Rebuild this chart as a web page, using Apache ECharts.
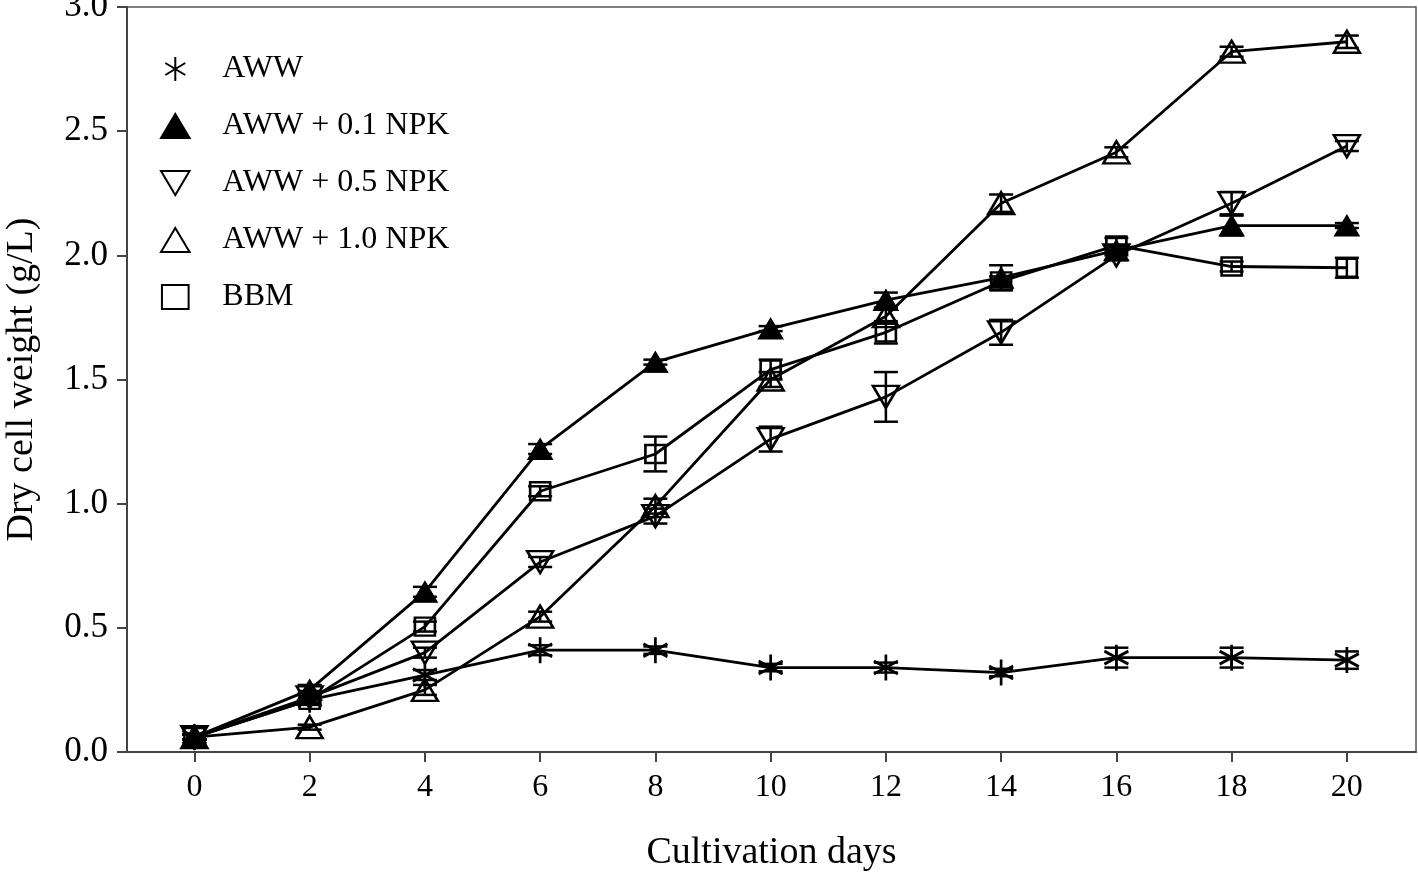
<!DOCTYPE html>
<html>
<head>
<meta charset="utf-8">
<script src="https://cdn.jsdelivr.net/npm/echarts@6/dist/echarts.min.js"></script>
<style>
html,body{margin:0;padding:0;background:#fff;}
#chart{width:1418px;height:876px;}
</style>
</head>
<body>
<div id="chart"></div>
<script>
// ---- data ----
const days = [0, 2, 4, 6, 8, 10, 12, 14, 16, 18, 20];
const xTickValues = [0, 2, 4, 6, 8, 10, 12, 14, 16, 18, 20];
const seriesNames = ['AWW', 'AWW + 0.1 NPK', 'AWW + 0.5 NPK', 'AWW + 1.0 NPK', 'BBM'];

const aww      = [0.06, 0.21, 0.31, 0.41, 0.41, 0.34, 0.34, 0.32, 0.38, 0.38, 0.37];
const aww01    = [0.06, 0.25, 0.645, 1.22, 1.57, 1.705, 1.82, 1.91, 2.02, 2.12, 2.12];
const aww05    = [0.06, 0.22, 0.40, 0.765, 0.95, 1.26, 1.43, 1.69, 2.00, 2.21, 2.44];
const aww10    = [0.06, 0.10, 0.25, 0.545, 0.99, 1.50, 1.755, 2.21, 2.415, 2.82, 2.86];
const bbm      = [0.06, 0.21, 0.505, 1.05, 1.20, 1.54, 1.69, 1.895, 2.04, 1.955, 1.95];

const awwErr   = [0.01, 0.02, 0.02, 0.02, 0.015, 0.015, 0.02, 0.015, 0.04, 0.04, 0.035];
const aww01Err = [0.01, 0.02, 0.02, 0.02, 0.01, 0.01, 0.03, 0.05, 0.02, 0.04, 0.01];
const aww05Err = [0.01, 0.02, 0.02, 0.02, 0.03, 0.05, 0.10, 0.05, 0.02, 0.045, 0.02];
const aww10Err = [0.01, 0.01, 0.02, 0.02, 0.03, 0.03, 0.03, 0.035, 0.02, 0.02, 0.025];
const bbmErr   = [0.01, 0.02, 0.02, 0.02, 0.07, 0.04, 0.045, 0.02, 0.03, 0.02, 0.04];

// ---- styling ----
const FONT = 'Liberation Serif';
const symAsterisk = 'path://M12,0L12,26M1.2,6.5L22.8,19.5M1.2,19.5L22.8,6.5';
const symUp = 'path://M12.5,0L25,21L0,21Z';
const symDown = 'path://M0,0L25,0L12.5,21Z';
const symSquare = 'path://M0,0L20,0L20,18L0,18Z';

const defs = [
  {name: seriesNames[0], values: aww,   errs: awwErr,   symbol: symAsterisk, size: [24, 26], fill: 'rgba(0,0,0,0)', bw: 2.8},
  {name: seriesNames[1], values: aww01, errs: aww01Err, symbol: symUp,       size: [25, 21], fill: '#000', bw: 1},
  {name: seriesNames[2], values: aww05, errs: aww05Err, symbol: symDown,     size: [26, 22], fill: 'rgba(0,0,0,0)', bw: 2.5},
  {name: seriesNames[3], values: aww10, errs: aww10Err, symbol: symUp,       size: [26, 22], fill: 'rgba(0,0,0,0)', bw: 2.5},
  {name: seriesNames[4], values: bbm,   errs: bbmErr,   symbol: symSquare,   size: [20, 18], fill: 'rgba(0,0,0,0)', bw: 2.5}
];

const series = [];
defs.forEach(d => {
  series.push({
    name: d.name,
    type: 'line',
    data: days.map((x, i) => [x, d.values[i]]),
    symbol: d.symbol,
    symbolSize: d.size,
    symbolKeepAspect: false,
    showAllSymbol: true,
    lineStyle: {color: '#000', width: 2.8},
    itemStyle: {color: d.fill, borderColor: '#000', borderWidth: d.bw},
    emphasis: {disabled: true},
    animation: false,
    z: 3
  });
});
defs.forEach(d => {
  series.push({
    name: d.name + ' err',
    type: 'custom',
    data: days.map((x, i) => [x, d.values[i], d.errs[i]]),
    renderItem: function (params, api) {
      const x = api.value(0), y = api.value(1), e = api.value(2);
      const top = api.coord([x, y + e]);
      const bot = api.coord([x, y - e]);
      const hw = 12;
      const st = {stroke: '#000', lineWidth: 2.5};
      return {
        type: 'group',
        children: [
          {type: 'line', shape: {x1: top[0], y1: top[1], x2: bot[0], y2: bot[1]}, style: st},
          {type: 'line', shape: {x1: top[0] - hw, y1: top[1], x2: top[0] + hw, y2: top[1]}, style: st},
          {type: 'line', shape: {x1: bot[0] - hw, y1: bot[1], x2: bot[0] + hw, y2: bot[1]}, style: st}
        ]
      };
    },
    silent: true,
    animation: false,
    z: 4
  });
});

const chart = echarts.init(document.getElementById('chart'), null, {renderer: 'canvas'});
chart.setOption({
  backgroundColor: '#fff',
  animation: false,
  grid: {left: 127, right: 2, top: 7, bottom: 124, show: true, borderColor: '#555', borderWidth: 1.5,
         backgroundColor: 'transparent', containLabel: false, outerBoundsMode: 'none'},
  legend: {
    orient: 'vertical',
    left: 155,
    top: 48,
    padding: 5,
    itemWidth: 30,
    itemHeight: 24,
    itemGap: 25,
    selectedMode: false,
    data: defs.map(d => ({name: d.name, icon: d.symbol})),
    textStyle: {fontFamily: FONT, fontSize: 32, color: '#000', padding: [0, 0, 0, 27]}
  },
  xAxis: {
    type: 'value',
    min: -1.17,
    max: 21.2,
    name: 'Cultivation days',
    nameLocation: 'middle',
    nameGap: 82,
    nameTextStyle: {fontFamily: FONT, fontSize: 38, color: '#000'},
    axisLine: {show: true, onZero: false, lineStyle: {color: '#444', width: 2}},
    axisTick: {show: true, length: 10, lineStyle: {color: '#444', width: 2}, customValues: xTickValues},
    axisLabel: {fontFamily: FONT, fontSize: 32, color: '#000', margin: 20, customValues: xTickValues},
    splitLine: {show: false}
  },
  yAxis: {
    type: 'value',
    min: 0,
    max: 3,
    interval: 0.5,
    name: 'Dry cell weight (g/L)',
    nameLocation: 'middle',
    nameGap: 86,
    nameTextStyle: {fontFamily: FONT, fontSize: 38, color: '#000'},
    axisLine: {show: true, onZero: false, lineStyle: {color: '#444', width: 2}},
    axisTick: {show: true, length: 10, lineStyle: {color: '#444', width: 2}},
    axisLabel: {fontFamily: FONT, fontSize: 35, color: '#000', margin: 19, formatter: v => v.toFixed(1)},
    splitLine: {show: false}
  },
  series: series
});
</script>
</body>
</html>
